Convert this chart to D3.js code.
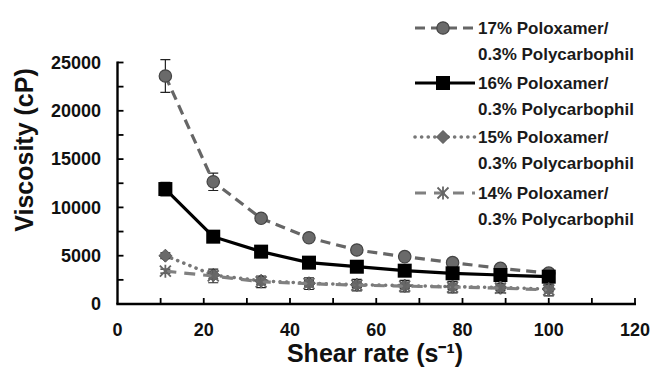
<!DOCTYPE html>
<html><head><meta charset="utf-8">
<script src="https://cdn.jsdelivr.net/npm/d3@7"></script>
<style>html,body{margin:0;padding:0;background:#fff;}svg{display:block;}</style>
</head><body><svg id="c" width="653" height="370"></svg>
<script>
const shearRates = [11.1, 22.2, 33.3, 44.4, 55.5, 66.6, 77.7, 88.8, 100];
const seriesNames = ["17% Poloxamer/", "16% Poloxamer/", "15% Poloxamer/", "14% Poloxamer/"];
const seriesSub = "0.3% Polycarbophil";
const visc17 = [23600, 12650, 8870, 6860, 5590, 4900, 4280, 3690, 3200];
const err17  = [1700, 900, 350, 300, 250, 250, 200, 200, 200];
const visc16 = [11900, 6970, 5420, 4280, 3860, 3450, 3180, 3000, 2830];
const err16  = [700, 300, 250, 250, 200, 200, 200, 200, 200];
const visc15 = [5000, 3000, 2400, 2150, 2000, 1900, 1800, 1700, 1550];
const err15  = [300, 400, 350, 300, 300, 300, 300, 300, 300];
const visc14 = [3400, 2900, 2300, 2100, 1950, 1850, 1750, 1650, 1450];
const err14  = [200, 700, 600, 600, 600, 600, 600, 500, 600];
const xTicks = [0, 20, 40, 60, 80, 100, 120];
const yTicks = [0, 5000, 10000, 15000, 20000, 25000];

const svg = d3.select("#c");
const x = d3.scaleLinear().domain([0, 120]).range([117.5, 635]);
const y = d3.scaleLinear().domain([0, 25000]).range([304, 62.5]);
const FONT = "'Liberation Sans', Arial, sans-serif";

// axes (drawn from scales)
const ax = svg.append("g");
ax.append("line").attr("x1", x(0) - 1.2).attr("x2", x(120) + 1).attr("y1", y(0)).attr("y2", y(0))
  .attr("stroke", "#000").attr("stroke-width", 2.4);
ax.append("line").attr("x1", x(0)).attr("x2", x(0)).attr("y1", y(0)).attr("y2", y(25000) - 1)
  .attr("stroke", "#000").attr("stroke-width", 2.4);
ax.selectAll("line.xt").data(d3.range(10, 121, 10)).join("line").attr("class", "xt")
  .attr("x1", d => x(d)).attr("x2", d => x(d)).attr("y1", y(0)).attr("y2", y(0) - 6)
  .attr("stroke", "#000").attr("stroke-width", 1.8);
ax.selectAll("line.yt").data(d3.range(2500, 25001, 2500)).join("line").attr("class", "yt")
  .attr("x1", x(0)).attr("x2", x(0) + 6).attr("y1", d => y(d)).attr("y2", d => y(d))
  .attr("stroke", "#000").attr("stroke-width", 1.8);

svg.append("g").selectAll("text").data(xTicks).join("text")
  .attr("x", d => x(d)).attr("y", 330).attr("dy", "0.35em")
  .attr("text-anchor", "middle").attr("font-family", FONT).attr("font-weight", "bold")
  .attr("font-size", 18).attr("fill", "#111").text(d => d);
svg.append("g").selectAll("text").data(yTicks).join("text")
  .attr("x", 101).attr("y", d => y(d)).attr("dy", "0.35em")
  .attr("text-anchor", "end").attr("font-family", FONT).attr("font-weight", "bold")
  .attr("font-size", 18).attr("fill", "#111").text(d => d);

// axis titles
svg.append("text").attr("x", 375).attr("y", 353).attr("dy", "0.35em")
  .attr("text-anchor", "middle").attr("font-family", FONT).attr("font-weight", "bold")
  .attr("font-size", 25).attr("fill", "#111").text("Shear rate (s\u207B\u00B9)");
svg.append("text").attr("transform", `translate(24,150) rotate(-90)`).attr("dy", "0.35em")
  .attr("text-anchor", "middle").attr("font-family", FONT).attr("font-weight", "bold")
  .attr("font-size", 25).attr("fill", "#111").text("Viscosity (cP)");

const series = [
  {name: seriesNames[0], vals: visc17, err: err17, color: "#666", dash: "10,6", width: 3.2, cap: "butt", marker: "circle"},
  {name: seriesNames[1], vals: visc16, err: err16, color: "#000", dash: null, width: 3.2, cap: "butt", marker: "square"},
  {name: seriesNames[2], vals: visc15, err: err15, color: "#777", dash: "0.1,6.5", width: 3.6, cap: "round", marker: "diamond"},
  {name: seriesNames[3], vals: visc14, err: err14, color: "#808080", dash: "11,8", width: 3.2, cap: "butt", marker: "asterisk"}
];

function drawMarker(g, type, cx, cy) {
  if (type === "circle") {
    g.append("circle").attr("cx", cx).attr("cy", cy).attr("r", 6.2)
      .attr("fill", "#6a6a6a").attr("stroke", "#444").attr("stroke-width", 1.2);
  } else if (type === "square") {
    g.append("rect").attr("x", cx - 7).attr("y", cy - 7).attr("width", 14).attr("height", 14)
      .attr("fill", "#000");
  } else if (type === "diamond") {
    g.append("path").attr("d", `M${cx},${cy-6.5}L${cx+6.5},${cy}L${cx},${cy+6.5}L${cx-6.5},${cy}Z`)
      .attr("fill", "#6a6a6a").attr("stroke", "#555").attr("stroke-width", 1);
  } else {
    const s = 5.5;
    g.append("path").attr("d", `M${cx-s},${cy-s}L${cx+s},${cy+s}M${cx-s},${cy+s}L${cx+s},${cy-s}M${cx},${cy-s-1}L${cx},${cy+s+1}`)
      .attr("stroke", "#666").attr("stroke-width", 1.8).attr("fill", "none");
  }
}

const line = d3.line().x(d => x(d[0])).y(d => y(d[1]));
series.forEach(s => {
  const g = svg.append("g");
  const pts = shearRates.map((r, i) => [r, s.vals[i], s.err[i]]);
  pts.forEach(p => {
    const cx = x(p[0]), y1 = y(p[1] + p[2]), y2 = y(p[1] - p[2]);
    g.append("path").attr("d", `M${cx},${y1}L${cx},${y2}M${cx-5},${y1}L${cx+5},${y1}M${cx-5},${y2}L${cx+5},${y2}`)
      .attr("stroke", "#222").attr("stroke-width", 1.2).attr("fill", "none");
  });
  g.append("path").datum(pts).attr("d", line).attr("fill", "none")
    .attr("stroke", s.color).attr("stroke-width", s.width)
    .attr("stroke-dasharray", s.dash).attr("stroke-linecap", s.cap);
  pts.forEach(p => drawMarker(g, s.marker, x(p[0]), y(p[1])));
});

// legend
const legY = [28, 83, 137, 193];
series.forEach((s, i) => {
  const g = svg.append("g");
  const ly = legY[i];
  g.append("line").attr("x1", 415).attr("x2", 475).attr("y1", ly).attr("y2", ly)
    .attr("stroke", s.color).attr("stroke-width", s.width)
    .attr("stroke-dasharray", s.dash).attr("stroke-linecap", s.cap);
  drawMarker(g, s.marker, 443, ly);
  const t = g.append("text").attr("font-family", FONT).attr("font-weight", "bold")
    .attr("font-size", 17).attr("fill", "#1a1a1a");
  t.append("tspan").attr("x", 478).attr("y", ly).attr("dy", "0.35em").text(s.name);
  t.append("tspan").attr("x", 478).attr("y", ly + 26).attr("dy", "0.35em").text(seriesSub);
});
</script></body></html>
